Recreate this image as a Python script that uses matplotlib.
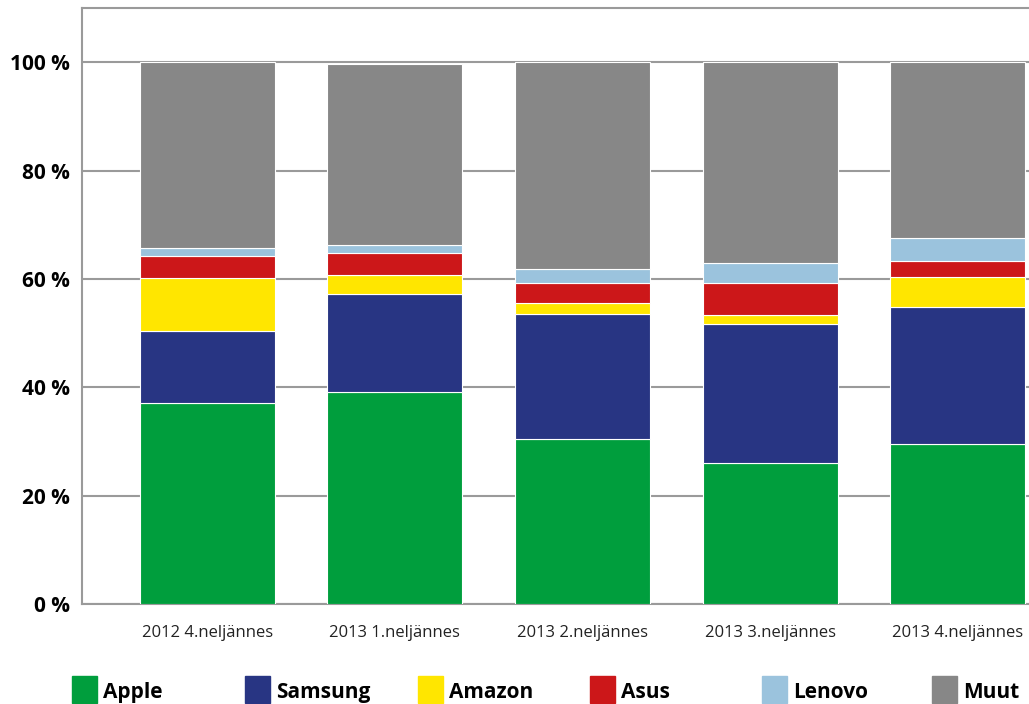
import numpy as np
import matplotlib.pyplot as plt
from matplotlib.patches import Rectangle

plt.rcParams['font.family'] = ['Open Sans', 'DejaVu Sans']

# market share per quarter, in percent
quarters = ['2012 4.neljännes', '2013 1.neljännes', '2013 2.neljännes',
            '2013 3.neljännes', '2013 4.neljännes']
apple = [37.1, 39.2, 30.4, 26.0, 29.5]
samsung = [13.3, 18.1, 23.2, 25.7, 25.4]
amazon = [9.7, 3.4, 2.0, 1.7, 5.4]
asus = [4.2, 4.1, 3.7, 5.9, 3.0]
lenovo = [1.4, 1.4, 2.6, 3.7, 4.3]
muut = [34.3, 33.5, 38.1, 37.0, 32.4]

names = ['Apple', 'Samsung', 'Amazon', 'Asus', 'Lenovo', 'Muut']
series = [apple, samsung, amazon, asus, lenovo, muut]
COLORS = ['#009E3D', '#283583', '#FFE600', '#CC1719', '#9BC3DD', '#878787']
GRID = '#9a9a9a'

fig = plt.figure(figsize=(10.29, 7.04), dpi=100)
ax = fig.add_axes([82 / 1029, 100 / 704, 1 - 82 / 1029, 596 / 704])

x = np.arange(len(quarters))
bottom = np.zeros(len(quarters))
for name, vals, color in zip(names, series, COLORS):
    ax.bar(x, vals, width=0.72, bottom=bottom, color=color,
           edgecolor='white', linewidth=0.8, label=name, zorder=3)
    bottom += np.array(vals)

ax.set_xlim(-0.667, 4.38)
ax.set_ylim(0, 110)
ax.set_yticks(range(0, 101, 20))
ax.set_yticklabels([f'{v} %' for v in range(0, 101, 20)],
                   fontsize=15, fontweight='bold')
ax.set_xticks(x)
ax.set_xticklabels(quarters, fontsize=12, color='#222222')
ax.tick_params(length=0, axis='y', pad=9)
ax.tick_params(length=0, axis='x', pad=15)
ax.yaxis.grid(True, color=GRID, linewidth=1.5, zorder=0)
for side in ['left', 'top', 'bottom']:
    ax.spines[side].set_color(GRID)
    ax.spines[side].set_linewidth(1.5)
ax.spines['right'].set_visible(False)

# legend row drawn by hand to match spacing
sq_x = [72, 245, 418, 590, 762, 932]
for sx, name, color in zip(sq_x, names, COLORS):
    fig.patches.append(Rectangle((sx / 1029, 1 / 704), 25 / 1029, 27 / 704,
                                 transform=fig.transFigure, color=color))
    fig.text((sx + 31) / 1029, 6 / 704, name, fontsize=15,
             fontweight='bold', va='baseline', ha='left')

fig.savefig('out.png', dpi=100)
